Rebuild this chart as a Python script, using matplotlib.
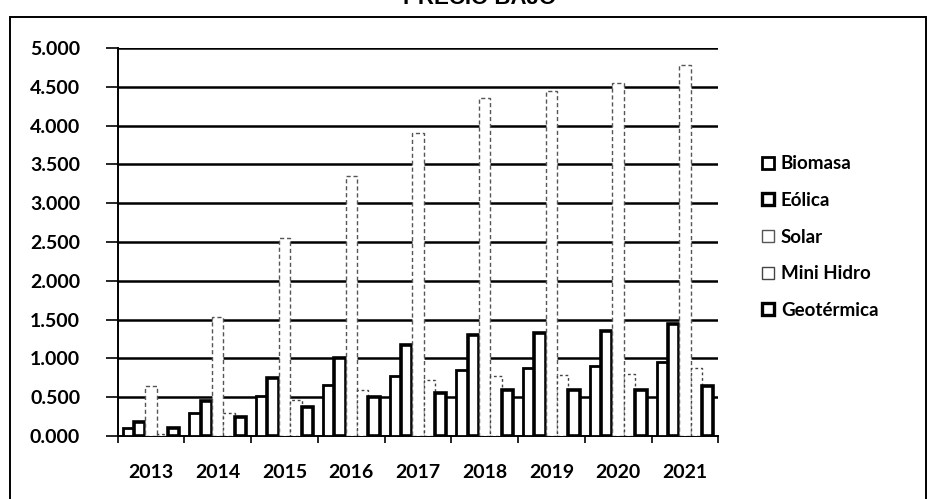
import numpy as np
import matplotlib.pyplot as plt
from matplotlib.lines import Line2D
from matplotlib.patches import Rectangle

# ---- data ----
years = ["2013", "2014", "2015", "2016", "2017", "2018", "2019", "2020", "2021"]
biomasa = [0.10, 0.30, 0.52, 0.66, 0.78, 0.85, 0.88, 0.90, 0.95]
eolica = [0.18, 0.45, 0.75, 1.00, 1.18, 1.30, 1.33, 1.35, 1.45]
solar = [0.65, 1.53, 2.55, 3.35, 3.90, 4.35, 4.45, 4.55, 4.78]
mini_hidro = [0.03, 0.30, 0.46, 0.60, 0.72, 0.78, 0.79, 0.80, 0.88]
geotermica = [0.10, 0.25, 0.38, 0.50, 0.55, 0.60, 0.60, 0.60, 0.65]

series_names = ["Biomasa", "Eólica", "Solar", "Mini Hidro", "Geotérmica"]
yticks = [0.0, 0.5, 1.0, 1.5, 2.0, 2.5, 3.0, 3.5, 4.0, 4.5, 5.0]

# ---- style per series: (edge width, linestyle, edge color)
styles = [
    (2.0, "-", "black"),
    (2.6, "-", "black"),
    (1.0, (0, (3, 2)), "#555555"),
    (1.0, (0, (2, 2)), "#444444"),
    (2.6, "-", "black"),
]

FONT = ["Lato", "DejaVu Sans"]
plt.rcParams["font.family"] = FONT
plt.rcParams["font.weight"] = "bold"

fig = plt.figure(figsize=(9.34, 4.99), dpi=100)
ax = fig.add_axes([0.126, 0.126, 0.643, 0.778])

x = np.arange(len(years))
w = 0.17
data = [biomasa, eolica, solar, mini_hidro, geotermica]
for i, (vals, (lw, ls, ec)) in enumerate(zip(data, styles)):
    ax.bar(x + (i - 2) * w, vals, width=w, facecolor="white", edgecolor=ec,
           linewidth=lw, linestyle=ls, zorder=3)

ax.set_xlim(-0.5, len(years) - 0.5)
ax.set_ylim(0, 5.0)
ax.set_yticks(yticks)
ax.set_yticklabels([f"{v:.3f}" for v in yticks], fontsize=14)
ax.set_xticks(x)
ax.set_xticklabels(years, fontsize=14)
ax.set_xticks(np.arange(len(years) + 1) - 0.5, minor=True)
ax.tick_params(axis="x", which="major", length=0, pad=20)
ax.tick_params(axis="x", which="minor", length=5, width=1.2)
ax.tick_params(axis="y", length=9, width=1.2, pad=18)

for yv in yticks[1:]:
    ax.axhline(yv, color="black", lw=1.8, zorder=1)

for s in ["top", "right"]:
    ax.spines[s].set_visible(False)
ax.spines["left"].set_linewidth(1.4)
ax.spines["bottom"].set_linewidth(1.4)

# legend
handles = []
for name, (lw, ls, ec) in zip(series_names, styles):
    handles.append(Line2D([], [], marker="s", linestyle="none", markersize=8,
                          markerfacecolor="white", markeredgecolor=ec,
                          markeredgewidth=min(lw, 2.4), label=name))
fig.legend(handles=handles, loc="center left", bbox_to_anchor=(0.797, 0.525),
           frameon=False, fontsize=13.5, handlelength=0.7, handletextpad=0.35,
           labelspacing=1.05)

# outer frame of the scanned chart (bottom edge lies outside the scan)
fig.patches.append(Rectangle((0.011, -0.05), 0.98, 1.016, transform=fig.transFigure,
                             fill=False, edgecolor="black", lw=1.4))

# title, partly cut off at the top like the scan
fig.text(0.514, 1.003, "PRECIO BAJO", ha="center", va="center", fontsize=16,
         fontweight="bold", family=["Liberation Sans", "DejaVu Sans"])

fig.savefig("out.png", dpi=100)
